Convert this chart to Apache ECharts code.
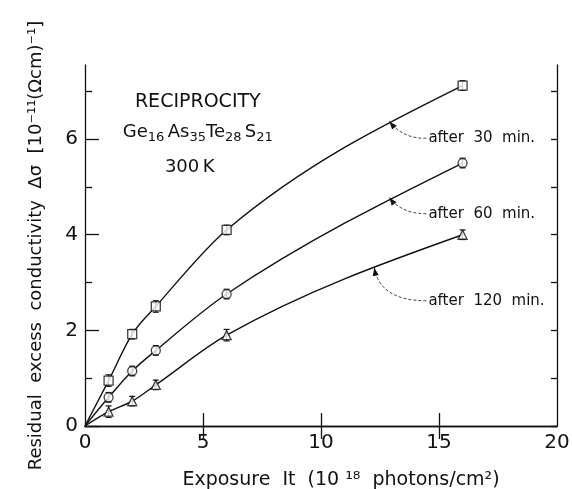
<!DOCTYPE html>
<html>
<head>
<meta charset="utf-8">
<script src="https://cdn.jsdelivr.net/npm/echarts@6/dist/echarts.min.js"></script>
<style>
  html, body { margin: 0; background: #fff; }
  #chart { width: 572px; height: 489px; }
</style>
</head>
<body>
<div id="chart"></div>
<script>
// exposure It, 10^18 photons/cm^2
var exposure = [1, 2, 3, 6, 16];

// residual excess conductivity, 10^-11 (ohm cm)^-1
var after30 = [0.95, 1.92, 2.5, 4.1, 7.12];
var after60 = [0.6, 1.15, 1.58, 2.76, 5.5];
var after120 = [0.3, 0.52, 0.86, 1.9, 4.0];

// error bar half-heights
var err30 = [0.12, 0.1, 0.12, 0.1, 0.1];
var err60 = [0.1, 0.1, 0.1, 0.1, 0.1];
var err120 = [0.12, 0.1, 0.1, 0.12, 0.1];

var yMajor = [0, 2, 4, 6];
var yMinor = [1, 3, 5, 7];
var xTicks = [5, 10, 15];

var FONT = "'DejaVu Sans', sans-serif";
var INK = '#111';

function points(vals) {
    return exposure.map(function (x, i) { return [x, vals[i]]; });
}
function bars(vals, errs) {
    return exposure.map(function (x, i) { return [x, vals[i], errs[i]]; });
}

// hermite segments through the origin and the measured points;
// slopes = mean of neighbouring chords, natural ends
function segments(vals) {
    var xs = [0].concat(exposure), ys = [0].concat(vals);
    var n = xs.length, d = [], m = [];
    for (var i = 0; i < n - 1; i++) d.push((ys[i + 1] - ys[i]) / (xs[i + 1] - xs[i]));
    for (i = 1; i < n - 1; i++) m[i] = (d[i - 1] + d[i]) / 2;
    m[0] = (3 * d[0] - m[1]) / 2;
    m[n - 1] = (3 * d[n - 2] - m[n - 2]) / 2;
    var out = [];
    for (i = 0; i < n - 1; i++) out.push([xs[i], ys[i], xs[i + 1], ys[i + 1], m[i], m[i + 1]]);
    return out;
}

function curveSeries(vals) {
    return {
        type: 'custom',
        z: 2,
        silent: true,
        data: segments(vals),
        renderItem: function (params, api) {
            var x0 = api.value(0), y0 = api.value(1), x1 = api.value(2), y1 = api.value(3);
            var m0 = api.value(4), m1 = api.value(5), h = (x1 - x0) / 3;
            var a = api.coord([x0, y0]), b = api.coord([x1, y1]);
            var c1 = api.coord([x0 + h, y0 + m0 * h]), c2 = api.coord([x1 - h, y1 - m1 * h]);
            return {
                type: 'bezierCurve',
                shape: { x1: a[0], y1: a[1], x2: b[0], y2: b[1], cpx1: c1[0], cpy1: c1[1], cpx2: c2[0], cpy2: c2[1] },
                style: { stroke: INK, lineWidth: 1.4, fill: null }
            };
        }
    };
}

function errorSeries(vals, errs) {
    return {
        type: 'custom',
        z: 3,
        silent: true,
        data: bars(vals, errs),
        renderItem: function (params, api) {
            var x = api.value(0), y = api.value(1), e = api.value(2);
            var hi = api.coord([x, y + e]);
            var lo = api.coord([x, y - e]);
            var st = { stroke: INK, lineWidth: 1.2 };
            return {
                type: 'group',
                children: [
                    { type: 'line', shape: { x1: hi[0], y1: hi[1], x2: lo[0], y2: lo[1] }, style: st },
                    { type: 'line', shape: { x1: hi[0] - 3, y1: hi[1], x2: hi[0] + 3, y2: hi[1] }, style: st },
                    { type: 'line', shape: { x1: lo[0] - 3, y1: lo[1], x2: lo[0] + 3, y2: lo[1] }, style: st }
                ]
            };
        }
    };
}

function markSeries(vals, symbol, size) {
    return {
        type: 'scatter',
        data: points(vals),
        symbol: symbol,
        symbolSize: size,
        z: 4,
        itemStyle: { color: '#fff', borderColor: INK, borderWidth: 1.3 }
    };
}

var axisLineStyle = { color: INK, width: 1.3 };

var chart = echarts.init(document.getElementById('chart'));

chart.setOption({
    backgroundColor: '#fff',
    animation: false,
    grid: { left: 85, right: 15, top: 65, bottom: 63, outerBoundsMode: 'none', containLabel: false },
    xAxis: [
        {
            type: 'value', min: 0, max: 20, interval: 5, position: 'bottom',
            axisLine: { show: true, lineStyle: axisLineStyle },
            axisTick: { inside: true, length: 13, customValues: xTicks, lineStyle: axisLineStyle },
            axisLabel: { color: INK, fontFamily: FONT, fontSize: 20, margin: 7 },
            splitLine: { show: false },
            name: 'Exposure  It  (10 \u00B9\u2078  photons/cm\u00B2)',
            nameLocation: 'middle',
            nameGap: 45,
            nameTextStyle: { color: INK, fontFamily: FONT, fontSize: 19, padding: [0, 0, 0, 40] }
        },
        {
            type: 'value', min: 0, max: 20, interval: 5, position: 'top',
            axisLine: { show: true, lineStyle: axisLineStyle },
            axisTick: { inside: true, length: 13, customValues: xTicks, lineStyle: axisLineStyle },
            axisLabel: { show: false },
            splitLine: { show: false }
        }
    ],
    yAxis: [
        {
            type: 'value', min: 0, max: 7.55, interval: 1, position: 'left',
            axisLine: { show: true, lineStyle: axisLineStyle },
            axisTick: { inside: true, length: 14, customValues: yMajor, lineStyle: axisLineStyle },
            axisLabel: { customValues: yMajor, color: INK, fontFamily: FONT, fontSize: 20, margin: 7 },
            splitLine: { show: false },
            name: 'Residual  excess  conductivity  \u0394\u03C3  [10\u207B\u00B9\u00B9(\u03A9cm)\u207B\u00B9]',
            nameLocation: 'middle',
            nameRotate: 90,
            nameGap: 40,
            nameTextStyle: { color: INK, fontFamily: FONT, fontSize: 18 }
        },
        {
            type: 'value', min: 0, max: 7.55, interval: 1, position: 'left',
            axisLine: { show: false },
            axisTick: { inside: true, length: 7, customValues: yMinor, lineStyle: axisLineStyle },
            axisLabel: { show: false },
            splitLine: { show: false }
        },
        {
            type: 'value', min: 0, max: 7.55, interval: 1, position: 'right',
            axisLine: { show: true, lineStyle: axisLineStyle },
            axisTick: { inside: true, length: 6, customValues: yMajor.concat(yMinor), lineStyle: axisLineStyle },
            axisLabel: { show: false },
            splitLine: { show: false }
        }
    ],
    series: [
        curveSeries(after30),
        curveSeries(after60),
        curveSeries(after120),
        errorSeries(after30, err30),
        errorSeries(after60, err60),
        errorSeries(after120, err120),
        markSeries(after30, 'rect', 9),
        markSeries(after60, 'circle', 9),
        markSeries(after120, 'triangle', 9)
    ]
});

// annotations, placed in data coordinates
var notes = [
    { text: 'after  30  min.', tip: [12.9, 6.37], ctrl: [13.5, 6.0], start: [14.55, 6.02] },
    { text: 'after  60  min.', tip: [12.9, 4.78], ctrl: [13.4, 4.44], start: [14.55, 4.44] },
    { text: 'after  120  min.', tip: [12.26, 3.31], ctrl: [12.5, 2.62], start: [14.55, 2.62] }
];

function px(p) { return chart.convertToPixel({ gridIndex: 0 }, p); }

var graphics = [];
notes.forEach(function (n) {
    var t = px(n.tip), c = px(n.ctrl), s = px(n.start);
    graphics.push({
        type: 'bezierCurve',
        shape: { x1: s[0] - 2, y1: s[1], x2: t[0], y2: t[1], cpx1: c[0], cpy1: c[1] },
        style: { stroke: INK, lineWidth: 0.8, lineDash: [3, 2], fill: null },
        z: 10
    });
    var dx = t[0] - c[0], dy = t[1] - c[1];
    var len = Math.sqrt(dx * dx + dy * dy);
    var ux = dx / len, uy = dy / len;
    var bx = t[0] - ux * 8, by = t[1] - uy * 8;
    graphics.push({
        type: 'polygon',
        shape: { points: [[t[0], t[1]], [bx - uy * 3, by + ux * 3], [bx + uy * 3, by - ux * 3]] },
        style: { fill: INK },
        z: 10
    });
    graphics.push({
        type: 'text',
        x: s[0], y: s[1],
        style: { text: n.text, fill: INK, font: '15px ' + FONT, verticalAlign: 'middle', align: 'left' },
        z: 10
    });
});

var p1 = px([4.78, 6.77]), p2 = px([4.78, 6.14]), p3 = px([4.44, 5.41]);
graphics.push({
    type: 'text', x: p1[0], y: p1[1],
    style: { text: 'RECIPROCITY', fill: INK, font: '19px ' + FONT, align: 'center', verticalAlign: 'middle' }
});
graphics.push({
    type: 'text', x: p2[0], y: p2[1],
    style: {
        text: '{m|Ge}{s|16} {m|As}{s|35}{m|Te}{s|28} {m|S}{s|21}',
        align: 'center', verticalAlign: 'middle',
        rich: {
            m: { fill: INK, fontFamily: FONT, fontSize: 18, lineHeight: 24 },
            s: { fill: INK, fontFamily: FONT, fontSize: 13, lineHeight: 24, padding: [10, 0, 0, 0] }
        }
    }
});
graphics.push({
    type: 'text', x: p3[0], y: p3[1],
    style: { text: '300\u2009K', fill: INK, font: '18px ' + FONT, align: 'center', verticalAlign: 'middle' }
});

chart.setOption({ graphic: graphics });
</script>
</body>
</html>
